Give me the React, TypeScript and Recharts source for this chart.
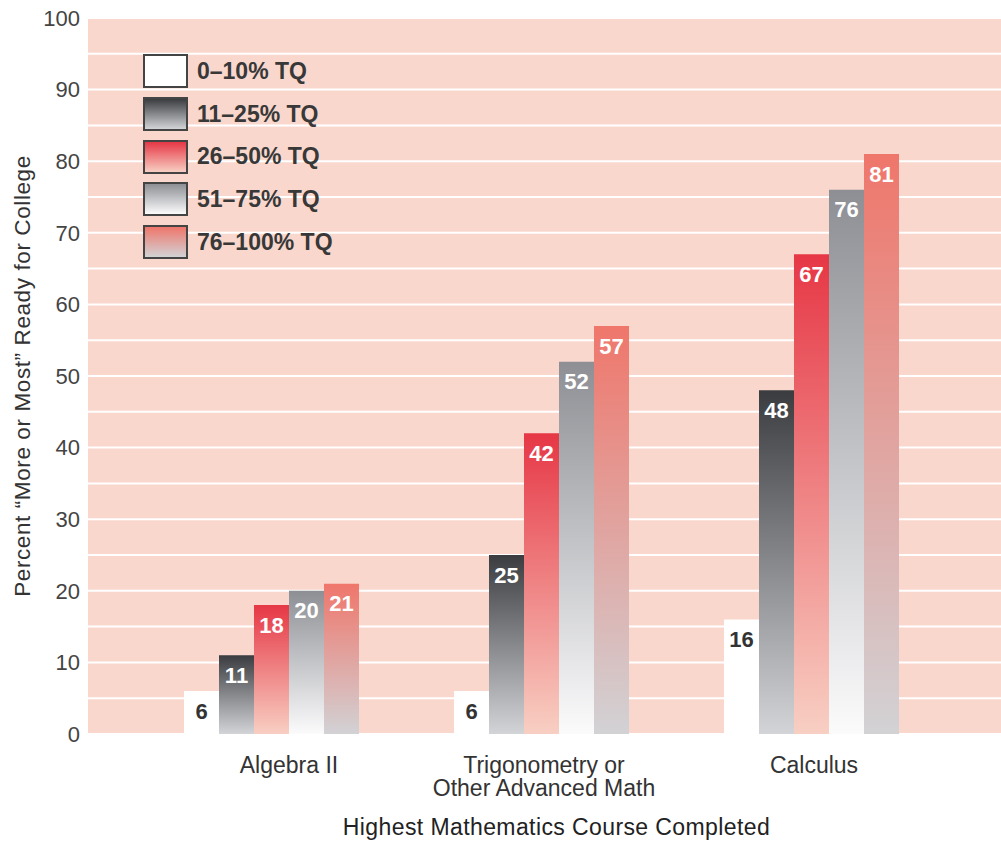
import React from 'react';
import { BarChart, Bar, XAxis, YAxis, CartesianGrid, LabelList, Label, Legend } from 'recharts';

const courses = ['Algebra II', 'Trigonometry or\nOther Advanced Math', 'Calculus'];
const tq0to10 = [6, 6, 16];
const tq11to25 = [11, 25, 48];
const tq26to50 = [18, 42, 67];
const tq51to75 = [20, 52, 76];
const tq76to100 = [21, 57, 81];
// grid every 5, labels only every 10
const yTicks = [0, 5, 10, 15, 20, 25, 30, 35, 40, 45, 50, 55, 60, 65, 70, 75, 80, 85, 90, 95, 100];

const series = [
  { key: 'tq0to10', name: '0–10% TQ', top: '#ffffff', bottom: '#ffffff', label: '#333333' },
  { key: 'tq11to25', name: '11–25% TQ', top: '#3a3c3f', bottom: '#d2d4d8', label: '#ffffff' },
  { key: 'tq26to50', name: '26–50% TQ', top: '#e63745', bottom: '#f8cfc3', label: '#ffffff' },
  { key: 'tq51to75', name: '51–75% TQ', top: '#8d8f94', bottom: '#fbfbfc', label: '#ffffff' },
  { key: 'tq76to100', name: '76–100% TQ', top: '#ef766b', bottom: '#d2d2d5', label: '#ffffff' },
];

const data = courses.map((course, i) => ({
  course,
  tq0to10: tq0to10[i],
  tq11to25: tq11to25[i],
  tq26to50: tq26to50[i],
  tq51to75: tq51to75[i],
  tq76to100: tq76to100[i],
}));

const font = '"Liberation Sans", Arial, Helvetica, sans-serif';

function CourseTick({ x, y, payload, index }: { x?: number; y?: number; index?: number; payload?: { value: string } }) {
  const lines = String(payload?.value ?? '').split('\n');
  // the original nudges the first label a little to the right
  const cx = (x ?? 0) + (index === 0 ? 17 : 2);
  return (
    <text x={cx} y={(y ?? 0) + 31} textAnchor="middle" fill="#333" fontSize={23} fontFamily={font}>
      {lines.map((line, i) => (
        <tspan key={line} x={cx} dy={i === 0 ? 0 : 23}>
          {line}
        </tspan>
      ))}
    </text>
  );
}

function LegendBox() {
  return (
    <div style={{ fontFamily: font }}>
      {series.map((s) => (
        <div key={s.key} style={{ display: 'flex', alignItems: 'center', height: 42.7 }}>
          <div
            style={{
              width: 41,
              height: 30,
              border: '2px solid #444',
              background: `linear-gradient(${s.top}, ${s.bottom})`,
            }}
          />
          <span style={{ marginLeft: 9, fontSize: 23, fontWeight: 700, color: '#383838' }}>{s.name}</span>
        </div>
      ))}
    </div>
  );
}

export default function App() {
  return (
    <div style={{ position: 'fixed', left: 0, top: 0, background: '#fff', width: 1001, height: 841 }}>
      <BarChart
        width={1001}
        height={841}
        data={data}
        margin={{ top: 18, right: 0, bottom: 0, left: 0 }}
        barCategoryGap={47}
        barGap={0}
      >
        <defs>
          {series.map((s) => (
            <linearGradient key={s.key} id={`grad-${s.key}`} x1="0" y1="0" x2="0" y2="1">
              <stop offset="0%" stopColor={s.top} />
              <stop offset="100%" stopColor={s.bottom} />
            </linearGradient>
          ))}
        </defs>
        <CartesianGrid vertical={false} fill="#f9d7cd" fillOpacity={1} stroke="#ffffff" strokeWidth={2} />
        <XAxis
          dataKey="course"
          axisLine={false}
          tickLine={false}
          height={107}
          padding={{ left: 49, right: 54 }}
          tick={<CourseTick />}
          interval={0}
        >
          <Label
            value="Highest Mathematics Course Completed"
            position="insideBottom"
            offset={6}
            dx={12}
            fill="#222"
            fontSize={23}
            letterSpacing={0.4}
            fontFamily={font}
          />
        </XAxis>
        <YAxis
          domain={[0, 100]}
          ticks={yTicks}
          interval={0}
          tickFormatter={(v: number) => (v % 10 === 0 ? String(v) : '')}
          axisLine={false}
          tickLine={false}
          width={88}
          tickMargin={2}
          tick={{ fontSize: 22, fill: '#444', fontFamily: font }}
        >
          <Label
            value="Percent “More or Most” Ready for College"
            angle={-90}
            position="insideLeft"
            offset={22}
            style={{ textAnchor: 'middle' }}
            fill="#333"
            fontSize={22.5}
            letterSpacing={0.6}
            fontFamily={font}
          />
        </YAxis>
        <Legend
          layout="vertical"
          verticalAlign="middle"
          align="center"
          content={<LegendBox />}
          wrapperStyle={{ left: 143, top: 50, width: 260 }}
        />
        {series.map((s) => (
          <Bar key={s.key} dataKey={s.key} name={s.name} fill={`url(#grad-${s.key})`} isAnimationActive={false}>
            <LabelList
              dataKey={s.key}
              position="insideTop"
              offset={12}
              fill={s.label}
              fontSize={22}
              fontWeight={700}
              fontFamily={font}
            />
          </Bar>
        ))}
      </BarChart>
    </div>
  );
}
